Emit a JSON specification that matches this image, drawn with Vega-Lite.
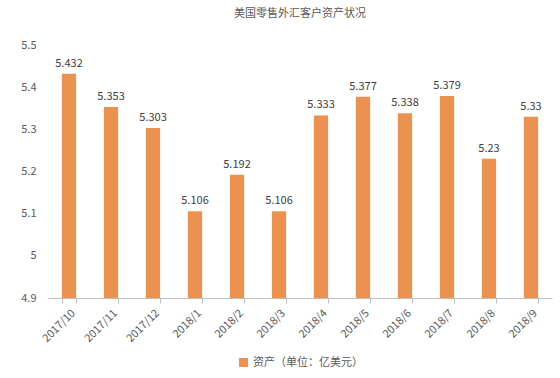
{
  "$schema": "https://vega.github.io/schema/vega-lite/v6.json",
  "width": 560,
  "height": 378,
  "autosize": {"type": "fit", "contains": "padding"},
  "padding": {"left": 20, "right": 8, "top": 8, "bottom": 10},
  "title": {"text": "美国零售外汇客户资产状况", "fontSize": 11, "fontWeight": "normal", "color": "#595959", "font": "Noto Sans CJK SC", "offset": 20},
  "config": {"view": {"stroke": null}, "font": "Noto Sans CJK SC", "legend": {"layout": {"bottom": {"anchor": "middle"}}}},
  "data": {"values": [
    {"month": "2017/10", "value": 5.432, "series": "资产（单位：亿美元）"},
    {"month": "2017/11", "value": 5.353, "series": "资产（单位：亿美元）"},
    {"month": "2017/12", "value": 5.303, "series": "资产（单位：亿美元）"},
    {"month": "2018/1", "value": 5.106, "series": "资产（单位：亿美元）"},
    {"month": "2018/2", "value": 5.192, "series": "资产（单位：亿美元）"},
    {"month": "2018/3", "value": 5.106, "series": "资产（单位：亿美元）"},
    {"month": "2018/4", "value": 5.333, "series": "资产（单位：亿美元）"},
    {"month": "2018/5", "value": 5.377, "series": "资产（单位：亿美元）"},
    {"month": "2018/6", "value": 5.338, "series": "资产（单位：亿美元）"},
    {"month": "2018/7", "value": 5.379, "series": "资产（单位：亿美元）"},
    {"month": "2018/8", "value": 5.23, "series": "资产（单位：亿美元）"},
    {"month": "2018/9", "value": 5.33, "series": "资产（单位：亿美元）"}
  ]},
  "encoding": {
    "x": {"field": "month", "type": "ordinal", "sort": null,
      "scale": {"paddingInner": 0.66, "paddingOuter": 0.33},
      "axis": {"title": null, "labelAngle": -45, "labelFontSize": 11, "labelColor": "#595959", "domainColor": "#BFBFBF", "tickColor": "#BFBFBF", "tickBand": "extent", "tickSize": 5, "labelPadding": 4}},
    "y": {"field": "value", "type": "quantitative",
      "scale": {"domain": [4.9, 5.5], "zero": false, "nice": false},
      "axis": {"title": null, "values": [4.9, 5.0, 5.1, 5.2, 5.3, 5.4, 5.5], "format": "~g", "grid": false, "domain": false, "ticks": false, "labelFontSize": 11, "labelColor": "#595959", "labelPadding": 12}}
  },
  "layer": [
    {"mark": {"type": "bar", "clip": true},
     "encoding": {"color": {"field": "series", "type": "nominal", "scale": {"range": ["#EC9250"]},
       "legend": {"title": null, "orient": "bottom", "symbolType": "square", "symbolSize": 80, "labelFontSize": 11, "labelColor": "#595959", "offset": 13}}}},
    {"mark": {"type": "text", "dy": -10, "fontSize": 11, "color": "#404040"},
     "encoding": {"text": {"field": "value", "type": "quantitative"}}}
  ]
}
